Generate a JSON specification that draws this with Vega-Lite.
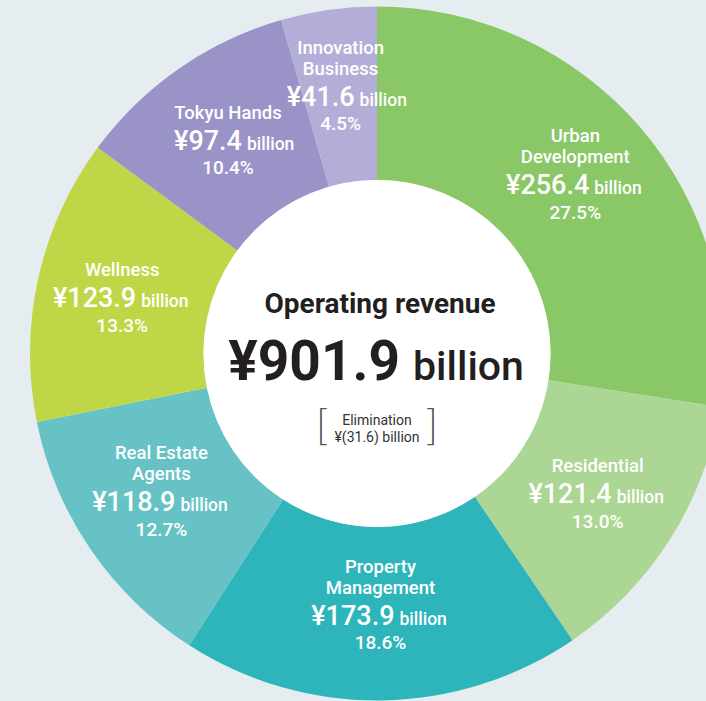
{
  "$schema": "https://vega.github.io/schema/vega-lite/v6.json",
  "width": 754,
  "height": 707,
  "autosize": {"type": "none"},
  "padding": {"left": 0, "top": 0, "right": -48, "bottom": -6},
  "background": "#e6edf1",
  "config": {"view": {"stroke": null}},
  "datasets": {
    "segments": [
      {"idx": 1, "segment": "Urban Development", "name1": "Urban", "name2": "Development", "amount": "¥256.4", "value": 256.4, "pct": "27.5%"},
      {"idx": 2, "segment": "Residential", "name1": "", "name2": "Residential", "amount": "¥121.4", "value": 121.4, "pct": "13.0%"},
      {"idx": 3, "segment": "Property Management", "name1": "Property", "name2": "Management", "amount": "¥173.9", "value": 173.9, "pct": "18.6%"},
      {"idx": 4, "segment": "Real Estate Agents", "name1": "Real Estate", "name2": "Agents", "amount": "¥118.9", "value": 118.9, "pct": "12.7%"},
      {"idx": 5, "segment": "Wellness", "name1": "", "name2": "Wellness", "amount": "¥123.9", "value": 123.9, "pct": "13.3%"},
      {"idx": 6, "segment": "Tokyu Hands", "name1": "", "name2": "Tokyu Hands", "amount": "¥97.4", "value": 97.4, "pct": "10.4%"},
      {"idx": 7, "segment": "Innovation Business", "name1": "Innovation", "name2": "Business", "amount": "¥41.6", "value": 41.6, "pct": "4.5%"}
    ]
  },
  "layer": [
    {
      "data": {"name": "segments"},
      "mark": {"type": "arc", "innerRadius": 173.5, "outerRadius": 347},
      "encoding": {
        "theta": {"field": "value", "type": "quantitative", "stack": true},
        "order": {"field": "idx", "type": "quantitative"},
        "color": {
          "field": "segment", "type": "nominal", "legend": null,
          "scale": {
            "domain": ["Urban Development", "Residential", "Property Management", "Real Estate Agents", "Wellness", "Tokyu Hands", "Innovation Business"],
            "range": ["#8ac766", "#acd693", "#2db5bb", "#67c2c6", "#bfd747", "#9a93c8", "#b3aed7"]
          }
        }
      }
    },
    {
      "data": {"values": [{"c": "disk"}]},
      "mark": {"type": "arc", "outerRadius": 173.5, "theta": 0, "theta2": 6.2832, "fill": "white"},
      "encoding": {}
    },
    {
      "data": {"name": "segments"},
      "mark": {"type": "text", "radius": 261, "color": "white", "font": "Roboto", "fontSize": 18.5, "fontWeight": 500, "baseline": "alphabetic", "align": "center", "dy": -41.5},
      "encoding": {
        "theta": {"field": "value", "type": "quantitative", "stack": true},
        "order": {"field": "idx", "type": "quantitative"},
        "text": {"field": "name1"}
      }
    },
    {
      "data": {"name": "segments"},
      "mark": {"type": "text", "radius": 261, "color": "white", "font": "Roboto", "fontSize": 18.5, "fontWeight": 500, "baseline": "alphabetic", "align": "center", "dy": -20.5},
      "encoding": {
        "theta": {"field": "value", "type": "quantitative", "stack": true},
        "order": {"field": "idx", "type": "quantitative"},
        "text": {"field": "name2"}
      }
    },
    {
      "data": {"name": "segments"},
      "mark": {"type": "text", "radius": 261, "color": "white", "font": "Roboto", "fontSize": 27, "fontWeight": 500, "baseline": "alphabetic", "align": "right", "dx": 14, "dy": 10.5},
      "encoding": {
        "theta": {"field": "value", "type": "quantitative", "stack": true},
        "order": {"field": "idx", "type": "quantitative"},
        "text": {"field": "amount"}
      }
    },
    {
      "data": {"name": "segments"},
      "mark": {"type": "text", "radius": 261, "color": "white", "font": "Roboto", "fontSize": 17.5, "fontWeight": 500, "baseline": "alphabetic", "align": "left", "dx": 19, "dy": 10.5},
      "encoding": {
        "theta": {"field": "value", "type": "quantitative", "stack": true},
        "order": {"field": "idx", "type": "quantitative"},
        "text": {"value": "billion"}
      }
    },
    {
      "data": {"name": "segments"},
      "mark": {"type": "text", "radius": 261, "color": "white", "font": "Roboto", "fontSize": 19, "fontWeight": 500, "baseline": "alphabetic", "align": "center", "dy": 35},
      "encoding": {
        "theta": {"field": "value", "type": "quantitative", "stack": true},
        "order": {"field": "idx", "type": "quantitative"},
        "text": {"field": "pct"}
      }
    },
    {
      "data": {"values": [{"t": "Operating revenue"}]},
      "mark": {"type": "text", "font": "Roboto", "fontSize": 28, "fontWeight": 700, "color": "#231f20", "baseline": "alphabetic", "align": "center", "dx": 3, "dy": -40.5},
      "encoding": {"text": {"field": "t"}}
    },
    {
      "data": {"values": [{"t": "¥901.9"}]},
      "mark": {"type": "text", "font": "Roboto", "fontSize": 55, "fontWeight": 700, "color": "#231f20", "baseline": "alphabetic", "align": "right", "dx": 23, "dy": 26.5},
      "encoding": {"text": {"field": "t"}}
    },
    {
      "data": {"values": [{"t": "billion"}]},
      "mark": {"type": "text", "font": "Roboto", "fontSize": 41, "fontWeight": 500, "color": "#231f20", "baseline": "alphabetic", "align": "left", "dx": 36, "dy": 26.5},
      "encoding": {"text": {"field": "t"}}
    },
    {
      "data": {"values": [{"t": "Elimination"}]},
      "mark": {"type": "text", "font": "Roboto", "fontSize": 14, "fontWeight": 400, "color": "#333333", "baseline": "alphabetic", "align": "center", "dy": 71.5},
      "encoding": {"text": {"field": "t"}}
    },
    {
      "data": {"values": [{"t": "¥(31.6) billion"}]},
      "mark": {"type": "text", "font": "Roboto", "fontSize": 14, "fontWeight": 400, "color": "#333333", "baseline": "alphabetic", "align": "center", "dy": 88},
      "encoding": {"text": {"field": "t"}}
    },
    {
      "data": {"values": [{"t": "["}]},
      "mark": {"type": "text", "font": "Lato", "fontSize": 41, "fontWeight": 300, "color": "#555555", "baseline": "middle", "align": "left", "dx": -61, "dy": 74},
      "encoding": {"text": {"field": "t"}}
    },
    {
      "data": {"values": [{"t": "]"}]},
      "mark": {"type": "text", "font": "Lato", "fontSize": 41, "fontWeight": 300, "color": "#555555", "baseline": "middle", "align": "right", "dx": 61, "dy": 74},
      "encoding": {"text": {"field": "t"}}
    }
  ]
}
